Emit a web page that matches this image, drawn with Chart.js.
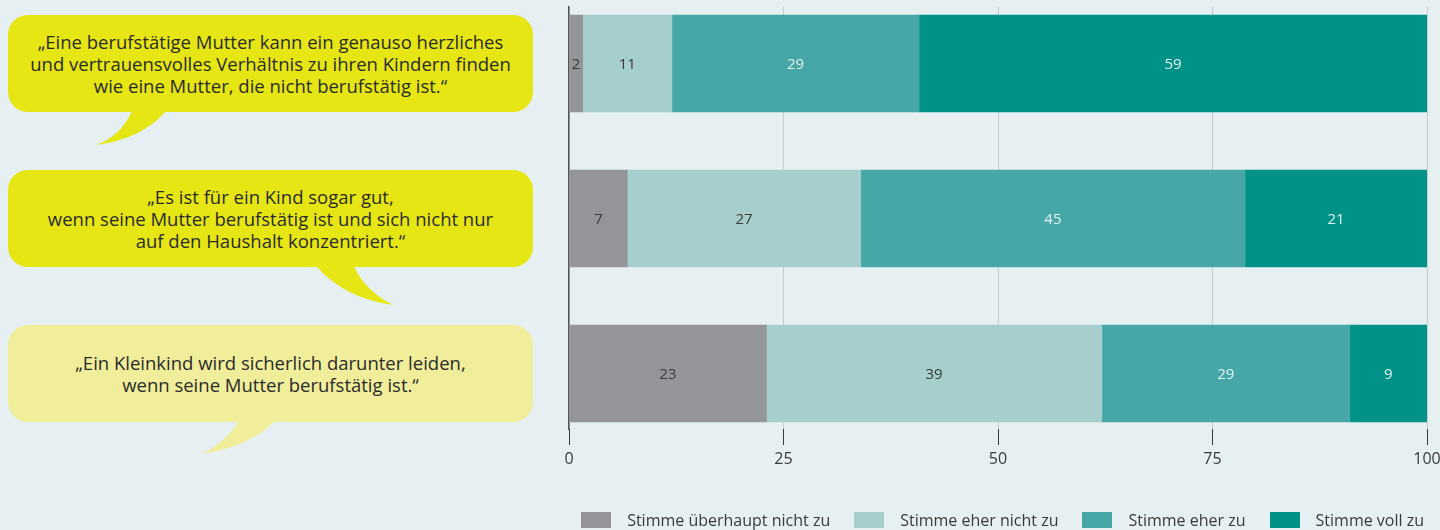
<!DOCTYPE html>
<html lang="de">
<head>
<meta charset="utf-8">
<title>Berufstätige Mütter</title>
<script src="https://cdn.jsdelivr.net/npm/chart.js@4.4.1/dist/chart.umd.min.js"></script>
<style>
  html, body { margin: 0; padding: 0; background: #e6f0f2; overflow: hidden; }
  #wrap { position: relative; width: 1440px; height: 530px; font-family: "Open Sans", sans-serif; color: #2b2b2b; }
  #chart { position: absolute; left: 0; top: 0; }
  .bubble { position: absolute; left: 8px; width: 525px; height: 97px; border-radius: 20px;
            display: flex; align-items: center; justify-content: center; text-align: center;
            font-size: 18.5px; line-height: 22px; }
  .tail { position: absolute; left: 0; top: 0; }
  #legend { position: absolute; right: 16px; top: 509px; display: flex; align-items: center; font-size: 16px; color: #3a3a3a; }
  #legend .item { display: flex; align-items: center; margin-left: 24px; }
  #legend .sw { width: 30px; height: 16px; margin-right: 16px; }
</style>
</head>
<body>
<div id="wrap">
  <svg class="tail" width="1440" height="530"></svg>
  <canvas id="chart" width="1440" height="530"></canvas>
  <div id="legend"></div>
</div>
<script>
// Aussagen (eine Zeile pro Array-Eintrag)
const statements = [
  ['„Eine berufstätige Mutter kann ein genauso herzliches', 'und vertrauensvolles Verhältnis zu ihren Kindern finden', 'wie eine Mutter, die nicht berufstätig ist.“'],
  ['„Es ist für ein Kind sogar gut,', 'wenn seine Mutter berufstätig ist und sich nicht nur', 'auf den Haushalt konzentriert.“'],
  ['„Ein Kleinkind wird sicherlich darunter leiden,', 'wenn seine Mutter berufstätig ist.“']
];
const seriesNames = ['Stimme überhaupt nicht zu', 'Stimme eher nicht zu', 'Stimme eher zu', 'Stimme voll zu'];

// Anteile in Prozent (Balkenlängen)
const notAtAll = [1.6, 6.8, 23.0];
const ratherNot = [10.4, 27.2, 39.1];
const rather = [28.8, 44.8, 28.9];
const fully = [59.2, 21.2, 9.0];

// gedruckte (gerundete) Werte
const notAtAllLabels = [2, 7, 23];
const ratherNotLabels = [11, 27, 39];
const ratherLabels = [29, 45, 29];
const fullyLabels = [59, 21, 9];

const xTicks = [0, 25, 50, 75, 100];

const colors = ['#949599', '#a6cecd', '#46a7a6', '#009286'];
const labelColors = ['#3a3a3a', '#3a3a3a', '#e2f2f0', '#e2f2f0'];
const bubbleColors = ['#e6e614', '#e6e614', '#f0ee9a'];

// Sprechblasen
const bubbleTops = [15, 170, 325];
const tails = [
  'M132,111 Q121,136 96,145 Q142,139 166,111 Z',
  'M316,266 Q344,298 393,305 Q364,290 354,266 Z',
  'M239,421 Q226,442 202,454 Q251,446 275,421 Z'
];
const svg = document.querySelector('svg.tail');
const wrap = document.getElementById('wrap');
statements.forEach((lines, i) => {
  const p = document.createElementNS('http://www.w3.org/2000/svg', 'path');
  p.setAttribute('d', tails[i]);
  p.setAttribute('fill', bubbleColors[i]);
  svg.appendChild(p);
  const b = document.createElement('div');
  b.className = 'bubble';
  b.style.top = bubbleTops[i] + 'px';
  b.style.background = bubbleColors[i];
  b.innerHTML = '<div>' + lines.join('<br>') + '</div>';
  wrap.appendChild(b);
});

// Legende
const legend = document.getElementById('legend');
seriesNames.forEach((name, i) => {
  const it = document.createElement('div');
  it.className = 'item';
  it.innerHTML = '<span class="sw" style="background:' + colors[i] + '"></span><span>' + name + '</span>';
  legend.appendChild(it);
});

const valueLabels = {
  id: 'valueLabels',
  afterDatasetsDraw(chart) {
    const ctx = chart.ctx;
    ctx.save();
    ctx.font = '15px "Open Sans", sans-serif';
    ctx.textAlign = 'center';
    ctx.textBaseline = 'middle';
    chart.data.datasets.forEach((ds, i) => {
      ctx.fillStyle = labelColors[i];
      chart.getDatasetMeta(i).data.forEach((bar, j) => {
        const pt = bar.getCenterPoint();
        ctx.fillText(String(ds.printed[j]), pt.x, pt.y + 1);
      });
    });
    ctx.restore();
  }
};

const toPoints = arr => arr.map((v, i) => ({ x: v, y: i }));
const allValues = [notAtAll, ratherNot, rather, fully];
const allPrinted = [notAtAllLabels, ratherNotLabels, ratherLabels, fullyLabels];

new Chart(document.getElementById('chart'), {
  type: 'bar',
  data: {
    datasets: seriesNames.map((name, i) => ({
      label: name,
      data: toPoints(allValues[i]),
      printed: allPrinted[i],
      backgroundColor: colors[i],
      borderWidth: 0,
      barThickness: 97
    }))
  },
  options: {
    indexAxis: 'y',
    responsive: false,
    animation: false,
    layout: { padding: { left: 569, right: 13, top: 7, bottom: 51 } },
    plugins: { legend: { display: false }, tooltip: { enabled: false } },
    scales: {
      x: {
        type: 'linear',
        stacked: true,
        min: 0,
        max: 100,
        afterBuildTicks: s => { s.ticks = xTicks.map(v => ({ value: v })); },
        afterFit: s => { s.height = 50; s.paddingRight = 0; s.paddingLeft = 0; },
        grid: { color: '#c5cdd0', lineWidth: 1, tickColor: '#3a3a3a', tickLength: 16 },
        border: { display: false },
        ticks: { color: '#3a3a3a', font: { family: '"Open Sans", sans-serif', size: 16 }, padding: 5 }
      },
      y: {
        type: 'linear',
        stacked: true,
        reverse: true,
        offset: false,
        min: -0.3645,
        max: 2.358,
        afterFit: s => { s.width = 0; s.paddingTop = 0; s.paddingBottom = 0; },
        grid: { display: false, offset: false },
        border: { display: true, color: '#555555', width: 1.5 },
        ticks: { display: false }
      }
    }
  },
  plugins: [valueLabels]
});
</script>
</body>
</html>
